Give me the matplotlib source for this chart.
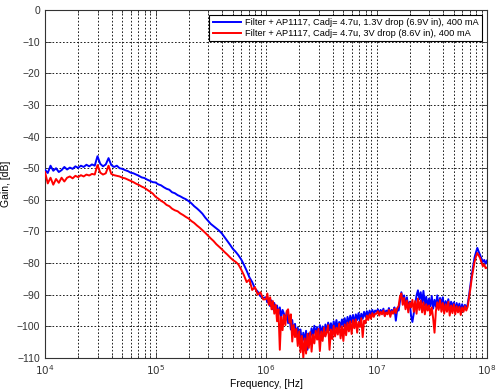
import numpy as np
import matplotlib
matplotlib.use("Agg")
import matplotlib.pyplot as plt
from matplotlib.ticker import LogLocator, NullFormatter

plt.rcParams['font.family'] = ['Liberation Sans', 'DejaVu Sans']

series_labels = [
    "Filter + AP1117, Cadj= 4.7u, 1.3V drop (6.9V in), 400 mA",
    "Filter + AP1117, Cadj= 4.7u, 3V drop (8.6V in), 400 mA",
]

# Low band: 10^4 .. 10^6 (sampled every 0.025 decade)
gain_blue_lo = [
    -50.5, -51.5, -49.2, -50.8, -50.0, -51.2, -50.6, -49.6, -50.4, -49.8,
    -50.2, -49.4, -49.9, -49.2, -49.6, -48.9, -49.4, -48.8, -49.2, -46.2,
    -48.6, -49.4, -48.8, -46.8, -49.0, -49.6, -49.2, -50.0, -50.2, -50.6,
    -50.9, -51.4, -51.6, -52.0, -52.4, -52.9, -53.1, -53.6, -54.0, -54.4,
    -54.5, -55.1, -55.4, -56.0, -56.5, -56.8, -57.6, -57.9, -58.5, -58.9,
    -59.4, -59.8, -60.4, -61.1, -62.0, -62.7, -63.5, -64.4, -65.6, -66.6,
    -67.6, -68.3, -69.0, -69.7, -70.6, -71.8, -73.0, -74.2, -75.5, -76.4,
    -77.5, -78.8, -80.5, -82.4, -84.5, -86.0, -88.0, -89.0, -90.5, -91.0,
]
gain_red_lo = [
    -51.2, -54.8, -53.0, -55.2, -53.4, -54.6, -53.0, -54.2, -53.0, -52.6,
    -53.2, -52.4, -52.8, -52.2, -52.6, -52.0, -52.3, -51.8, -52.0, -49.0,
    -51.4, -52.0, -51.6, -49.2, -51.8, -52.2, -52.4, -52.6, -53.0, -53.2,
    -53.6, -54.0, -54.4, -54.9, -55.3, -55.8, -56.2, -56.8, -57.4, -58.0,
    -59.0, -59.6, -60.3, -60.8, -61.6, -62.0, -62.8, -63.3, -63.6, -64.3,
    -64.8, -65.4, -65.9, -66.7, -67.3, -68.1, -68.8, -69.6, -70.4, -71.3,
    -72.2, -73.0, -74.0, -74.8, -75.6, -76.5, -77.3, -78.2, -79.0, -79.6,
    -80.4, -82.0, -83.8, -86.0, -85.2, -88.5, -87.6, -90.0, -89.2, -91.5,
]

# High band: 10^6 .. 10^8 (sampled every 0.0125 decade)
gain_blue_hi = [
    -90.8, -92.4, -91.2, -93.6, -91.8, -94.6, -92.6, -95.0, -93.4, -96.4,
    -94.0, -97.2, -94.8, -96.0, -98.2, -95.6, -99.0, -96.8, -101.0, -98.0,
    -102.4, -99.2, -103.0, -100.4, -104.2, -101.0, -105.6, -102.0, -104.6, -101.4,
    -107.4, -102.2, -104.0, -100.6, -103.2, -99.8, -102.6, -100.2, -104.0, -99.6,
    -102.4, -100.0, -103.0, -99.4, -101.8, -98.8, -101.2, -99.0, -101.6, -98.4,
    -100.6, -98.0, -101.0, -98.6, -100.2, -97.8, -99.8, -97.4, -100.4, -97.0,
    -99.2, -96.6, -98.8, -96.4, -99.4, -96.2, -98.0, -95.8, -98.4, -96.0,
    -97.6, -95.4, -97.0, -95.2, -96.8, -95.0, -96.4, -94.8, -96.2, -95.0,
    -95.4, -94.6, -96.0, -94.8, -95.8, -94.4, -96.6, -95.0, -95.6, -94.2,
    -96.2, -94.8, -95.4, -94.0, -98.2, -94.6, -95.0, -92.0, -89.2, -91.6,
    -90.2, -93.4, -90.8, -94.0, -92.2, -96.6, -98.6, -95.8, -93.0, -90.2,
    -88.6, -91.4, -89.2, -92.6, -88.8, -93.4, -90.6, -94.0, -91.2, -93.6,
    -90.4, -94.4, -91.6, -93.8, -90.2, -94.2, -91.0, -93.0, -90.8, -94.6,
    -92.0, -93.6, -91.4, -94.8, -92.2, -93.8, -92.4, -95.0, -92.6, -94.4,
    -92.8, -95.2, -93.0, -94.6, -93.2, -94.4, -93.0, -90.2, -86.8, -83.6,
    -80.8, -78.2, -76.6, -75.2, -76.4, -77.4, -78.6, -79.6, -79.0, -80.2,
    -79.2,
]
gain_red_hi = [
    -91.4, -89.6, -93.2, -90.8, -94.6, -92.0, -96.0, -93.2, -98.4, -94.6,
    -107.4, -97.0, -101.2, -96.4, -99.6, -95.2, -94.6, -98.8, -96.2, -104.8,
    -99.6, -103.4, -100.8, -106.2, -101.6, -108.2, -103.0, -110.0, -103.8, -108.6,
    -102.4, -106.8, -101.8, -108.0, -102.6, -105.4, -101.4, -104.2, -100.8, -107.8,
    -101.6, -104.6, -100.4, -103.2, -101.8, -99.6, -107.4, -101.0, -104.0, -99.8,
    -103.2, -100.4, -102.6, -99.2, -103.8, -100.0, -104.6, -99.4, -102.8, -98.8,
    -101.6, -98.4, -102.4, -98.0, -100.6, -97.8, -102.0, -98.6, -100.2, -97.4,
    -103.4, -98.2, -99.0, -96.6, -98.0, -96.2, -97.6, -95.8, -97.0, -96.0,
    -96.0, -95.2, -96.6, -95.4, -96.2, -95.0, -96.8, -95.6, -96.2, -94.8,
    -97.0, -95.2, -96.0, -94.4, -95.8, -94.2, -93.6, -90.6, -89.6, -93.2,
    -91.0, -94.6, -91.8, -95.6, -92.4, -94.0, -91.6, -95.4, -92.0, -96.0,
    -91.2, -94.8, -91.8, -95.6, -92.4, -96.2, -93.0, -95.0, -93.4, -96.4,
    -94.0, -97.4, -102.0, -95.2, -92.4, -94.8, -91.6, -95.4, -92.6, -96.0,
    -93.0, -95.4, -92.2, -96.6, -93.4, -95.8, -93.0, -96.2, -93.6, -95.6,
    -93.8, -96.4, -94.0, -95.4, -93.6, -95.0, -93.8, -91.0, -88.0, -84.6,
    -82.0, -79.6, -78.0, -76.8, -77.6, -78.4, -79.8, -81.0, -80.4, -81.6,
    -81.4,
]

y_ticks = [0, -10, -20, -30, -40, -50, -60, -70, -80, -90, -100, -110]
x_ticks = [1e4, 1e5, 1e6, 1e7, 1e8]
x_ticklabels = [r'$10^{4}$', r'$10^{5}$', r'$10^{6}$', r'$10^{7}$', r'$10^{8}$']


def band_freqs(n_lo, n_hi):
    lo = np.logspace(4, 6, n_lo, endpoint=False)
    hi = np.logspace(6, 8, n_hi)
    return np.concatenate([lo, hi])


freq_blue = band_freqs(len(gain_blue_lo), len(gain_blue_hi))
freq_red = band_freqs(len(gain_red_lo), len(gain_red_hi))
gain_blue = gain_blue_lo + gain_blue_hi
gain_red = gain_red_lo + gain_red_hi

fig = plt.figure(figsize=(5.0, 3.91), dpi=100)
ax = fig.add_axes([0.09, 0.0844, 0.884, 0.8898])

ax.semilogx(freq_blue, gain_blue, color='#0000ff', lw=1.4, label=series_labels[0], zorder=3)
ax.semilogx(freq_red, gain_red, color='#ff0000', lw=1.4, label=series_labels[1], zorder=4)

ax.set_xlim(1e4, 1e8)
ax.set_ylim(-110, 0)
ax.set_yticks(y_ticks)
ax.set_xticks(x_ticks)
ax.set_xticklabels(x_ticklabels)
ax.xaxis.set_minor_locator(LogLocator(base=10, subs=np.arange(2, 10), numticks=20))
ax.xaxis.set_minor_formatter(NullFormatter())

grid_style = dict(color='black', linestyle=(0, (2, 2.2)), linewidth=0.6)
ax.grid(True, which='major', axis='both', **grid_style)
ax.grid(True, which='minor', axis='x', **grid_style)

ax.tick_params(which='both', direction='in', top=True, right=True, labelsize=7.5, colors='#333333', width=0.6)
ax.tick_params(which='major', length=4)
ax.tick_params(which='minor', length=2)
for s in ax.spines.values():
    s.set_linewidth(0.8)
    s.set_color('#333333')

ax.set_xlabel('Frequency, [Hz]', fontsize=7.5, labelpad=2)
ax.set_ylabel('Gain, [dB]', fontsize=7.5, labelpad=4)

leg = ax.legend(loc='upper right', bbox_to_anchor=(0.989, 0.986), fontsize=6.7,
                frameon=True, fancybox=False, framealpha=1, edgecolor='black',
                borderpad=0.35, labelspacing=0.2, handlelength=3.0, handletextpad=0.5,
                borderaxespad=0)
leg.get_frame().set_linewidth(0.8)

fig.savefig('out.png', dpi=100)
